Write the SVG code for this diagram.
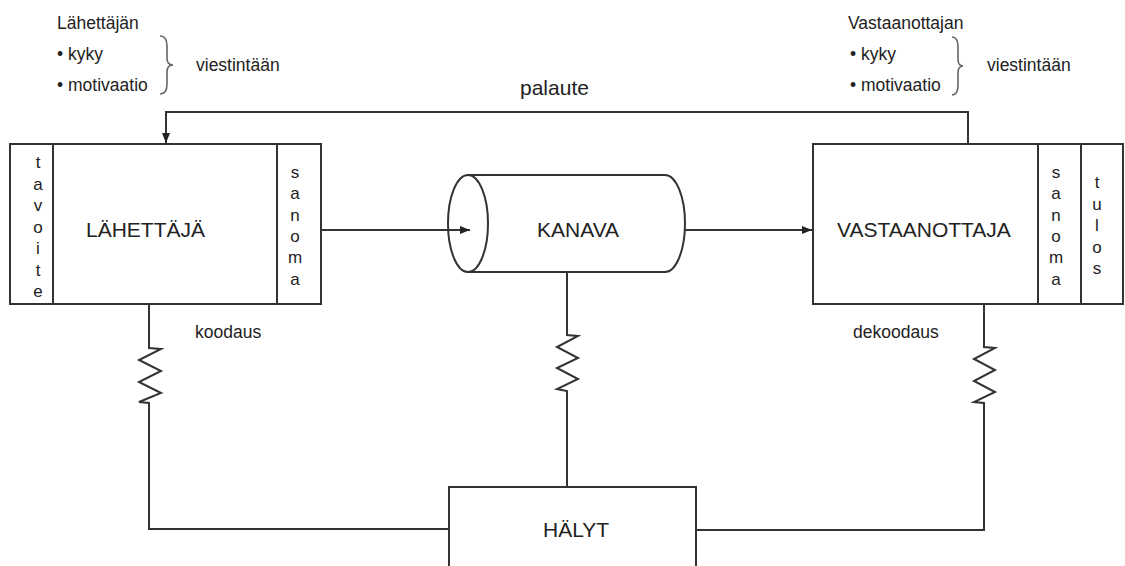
<svg xmlns="http://www.w3.org/2000/svg" width="1125" height="566" viewBox="0 0 1125 566">
<style>
.ln{fill:none;stroke:#333;stroke-width:2}
.bx{fill:#fff;stroke:#333;stroke-width:2}
.br{fill:none;stroke:#666;stroke-width:1.6}
.big{font-family:"Liberation Sans",Arial,sans-serif;font-size:21px;fill:#222}
.sm{font-family:"Liberation Sans",Arial,sans-serif;font-size:17.5px;fill:#222}
.vt{font-family:"Liberation Sans",Arial,sans-serif;font-size:17px;fill:#222;text-anchor:middle}
</style>
<defs>
<marker id="ah" viewBox="0 0 10 10" refX="10" refY="5" markerWidth="10" markerHeight="10" markerUnits="userSpaceOnUse" orient="auto">
<path d="M0,1 L10,5 L0,9 Z" fill="#222"/>
</marker>
</defs>
<rect width="1125" height="566" fill="#fff"/>

<g id="connectors">
<path class="ln" d="M968,144 V112 H166 V143" marker-end="url(#ah)"/>
<path class="ln" d="M321,230 H470" marker-end="url(#ah)"/>
<path class="ln" d="M685,230 H812" marker-end="url(#ah)"/>
<path class="ln" d="M149,304 V348 L161,349 L139,360 L161,371 L139,382 L161,393 L139,402 L149,403 V529 H449"/>
<path class="ln" d="M567,272 V335 L578,336 L557,347 L578,358 L557,368 L578,379 L557,389 L567,391 V487"/>
<path class="ln" d="M984,304 V347 L995,348 L974,359 L995,370 L974,381 L995,392 L974,402 L984,403 V530 H696"/>
</g>

<g id="sender-note">
<text class="sm" x="57" y="29">Lähettäjän</text>
<text class="sm" x="57" y="60">• kyky</text>
<text class="sm" x="57" y="91">• motivaatio</text>
<path class="br" d="M160,36 Q167,36 167,46 L167,58 Q167,65 173,65 Q167,65 167,72 L167,84 Q167,94 160,94"/>
<text class="sm" x="196" y="71">viestintään</text>
</g>

<g id="receiver-note">
<text class="sm" x="848" y="29">Vastaanottajan</text>
<text class="sm" x="850" y="60">• kyky</text>
<text class="sm" x="850" y="91">• motivaatio</text>
<path class="br" d="M952,37 Q958,37 958,47 L958,59 Q958,66 963,66 Q958,66 958,73 L958,85 Q958,95 952,95"/>
<text class="sm" x="987" y="71">viestintään</text>
</g>

<text id="palaute" class="big" x="520" y="95">palaute</text>

<g id="sender">
<rect class="bx" x="10" y="144" width="311" height="160"/>
<line class="ln" x1="53" y1="144" x2="53" y2="304"/>
<line class="ln" x1="277" y1="144" x2="277" y2="304"/>
<text class="big" x="86" y="237">LÄHETTÄJÄ</text>
<text class="vt"><tspan x="38" y="168">t</tspan><tspan x="38" y="189.5">a</tspan><tspan x="38" y="211">v</tspan><tspan x="38" y="232.5">o</tspan><tspan x="38" y="254">i</tspan><tspan x="38" y="275.5">t</tspan><tspan x="38" y="297">e</tspan></text>
<text class="vt"><tspan x="295" y="177.5">s</tspan><tspan x="295" y="199">a</tspan><tspan x="295" y="220.5">n</tspan><tspan x="295" y="242">o</tspan><tspan x="295" y="263">m</tspan><tspan x="295" y="284.5">a</tspan></text>
</g>
<text id="koodaus" class="sm" x="195" y="338">koodaus</text>

<g id="channel">
<path class="bx" d="M468,175 L665,175 A20,48.5 0 0 1 665,272 L468,272 Z"/>
<ellipse class="bx" cx="468" cy="223.5" rx="20" ry="48.5"/>
<path class="ln" d="M440,230 H470" marker-end="url(#ah)"/>
<text class="big" x="537" y="237">KANAVA</text>
</g>

<g id="receiver">
<rect class="bx" x="813" y="144" width="310" height="160"/>
<line class="ln" x1="1038" y1="144" x2="1038" y2="304"/>
<line class="ln" x1="1081" y1="144" x2="1081" y2="304"/>
<text class="big" x="837" y="237">VASTAANOTTAJA</text>
<text class="vt"><tspan x="1056" y="177.5">s</tspan><tspan x="1056" y="199">a</tspan><tspan x="1056" y="220.5">n</tspan><tspan x="1056" y="242">o</tspan><tspan x="1056" y="263">m</tspan><tspan x="1056" y="284.5">a</tspan></text>
<text class="vt"><tspan x="1097" y="188">t</tspan><tspan x="1097" y="209.5">u</tspan><tspan x="1097" y="231">l</tspan><tspan x="1097" y="252.5">o</tspan><tspan x="1097" y="273.5">s</tspan></text>
</g>
<text id="dekoodaus" class="sm" x="853" y="338">dekoodaus</text>

<g id="halyt">
<rect class="bx" x="449" y="487" width="247" height="100"/>
<text class="big" x="543" y="537">HÄLYT</text>
</g>
</svg>
